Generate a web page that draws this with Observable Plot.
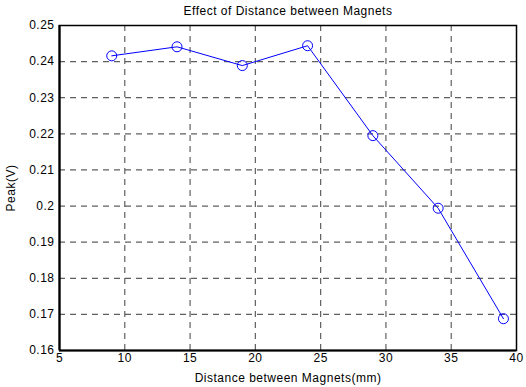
<!DOCTYPE html>
<html><head><meta charset="utf-8">
<script src="https://cdn.jsdelivr.net/npm/d3@7"></script>
<script src="https://cdn.jsdelivr.net/npm/@observablehq/plot@0.6"></script>
<style>body{margin:0;background:#fff}</style>
</head><body><div id="chart"></div>
<script>
const title = "Effect of Distance between Magnets";
const xLabel = "Distance between Magnets(mm)";
const yLabel = "Peak(V)";
const distances = [9, 14, 19, 24, 29, 34, 39];
const peaks = [0.2416, 0.2441, 0.2389, 0.2444, 0.2195, 0.1994, 0.1688];
const xTicks = [5, 10, 15, 20, 25, 30, 35, 40];
const yTicks = [0.16, 0.17, 0.18, 0.19, 0.2, 0.21, 0.22, 0.23, 0.24, 0.25];

const data = distances.map((d, i) => ({x: d, y: peaks[i]}));
const xInner = xTicks.slice(1, -1);
const yInner = yTicks.slice(1, -1);

const plot = Plot.plot({
  width: 526, height: 387,
  marginLeft: 59, marginRight: 10, marginTop: 25, marginBottom: 37,
  style: {fontFamily: "Liberation Sans, Arial, sans-serif", fontSize: "12px", background: "#fff", color: "#000", letterSpacing: "0.5px"},
  x: {domain: [5, 40]},
  y: {domain: [0.16, 0.25]},
  marks: [
    Plot.ruleX(xInner, {stroke: "#444", strokeWidth: 1.2, strokeDasharray: "6,5", strokeOpacity: 0.85}),
    Plot.ruleY(yInner, {stroke: "#444", strokeWidth: 1.2, strokeDasharray: "6,5", strokeOpacity: 0.85}),
    Plot.axisX({ticks: xTicks, tickSize: 0, tickPadding: 3, label: xLabel, labelAnchor: "center", labelArrow: "none", labelOffset: 31, fontSize: 12}),
    Plot.axisY({ticks: yTicks, tickSize: 0, tickPadding: 5, tickFormat: d => String(+d.toFixed(2)), label: yLabel, labelAnchor: "center", labelArrow: "none", labelOffset: 53, fontSize: 12}),
    Plot.frame({stroke: "#000", strokeWidth: 1.5}),
    Plot.ruleX([5], {stroke: "#000", strokeWidth: 2.2}),
    Plot.ruleY([0.16], {stroke: "#000", strokeWidth: 2.2}),
    Plot.line(data, {x: "x", y: "y", stroke: "#0000ff", strokeWidth: 1}),
    Plot.dot(data, {x: "x", y: "y", r: 5, stroke: "#0000ff", strokeWidth: 1, fill: "none"}),
    Plot.text([title], {frameAnchor: "top", lineAnchor: "middle", dy: -14, fontSize: 12, text: d => d})
  ]
});
document.getElementById("chart").appendChild(plot);
</script>
</body></html>
